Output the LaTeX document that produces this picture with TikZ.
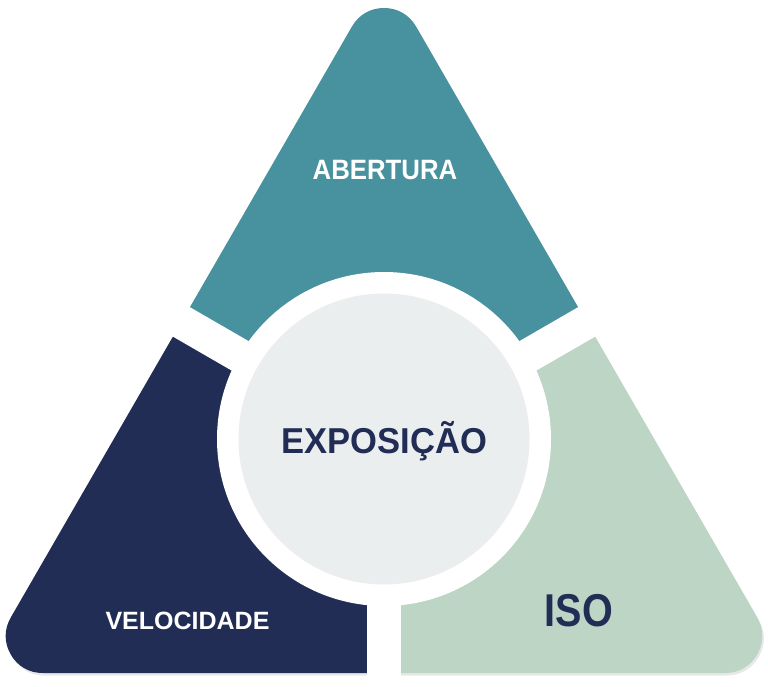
\documentclass[tikz,border=0pt]{standalone}
\usepackage{fontspec}
\setmainfont{Liberation Sans}
\usepackage{xcolor}
\usepackage{tikz}
\usetikzlibrary{calc}
\definecolor{tealtop}{HTML}{48919E}
\definecolor{navyleft}{HTML}{212D55}
\definecolor{sageright}{HTML}{BDD5C5}
\definecolor{coregray}{HTML}{EBEEEF}
% inner triangle, widened by a round-joined stroke to give the rounded corners
\newcommand{\expotri}{(384,45) -- (725.2,636) -- (42.8,636) -- cycle}
\tikzset{
  piece/.style={line width=74pt, line join=round},
  gap/.style={draw=white, line width=34pt},
  lbl/.style={anchor=base, inner sep=0pt, font=\bfseries},
}

\begin{document}
\begin{tikzpicture}[x=1pt, y=-1pt]
  \useasboundingbox (0,0) rectangle (768,687);
  \coordinate (c) at (384,439);

  % soft shadow under the triangle
  \filldraw[black!9, piece, shift={(1.5,2.5)}] \expotri;

  % three coloured parts
  \begin{scope}
    \clip (c) -- ($(c)+(-693,-400)$) -- (384,-200) -- ($(c)+(693,-400)$) -- cycle;
    \filldraw[tealtop, piece] \expotri;
  \end{scope}
  \begin{scope}
    \clip (c) -- ($(c)+(-693,-400)$) -- (-100,800) -- (384,800) -- cycle;
    \filldraw[navyleft, piece] \expotri;
  \end{scope}
  \begin{scope}
    \clip (c) -- (384,800) -- (900,800) -- ($(c)+(693,-400)$) -- cycle;
    \filldraw[sageright, piece] \expotri;
  \end{scope}

  % white gaps and centre disc
  \coordinate (gapS)  at ($(c)+(0,400)$);
  \coordinate (gapNW) at ($(c)+(-346,-200)$);
  \coordinate (gapNE) at ($(c)+(346,-200)$);
  \draw[gap] (c) -- (gapS);
  \draw[gap] (c) -- (gapNW);
  \draw[gap] (c) -- (gapNE);
  \fill[white] (c) circle[radius=167];
  \fill[coregray, draw=black!7, line width=1pt] (c) circle[radius=145];

  % labels
  \node[lbl, text=white]    (abertura) at (385,180) {\fontsize{28}{30}\selectfont\scalebox{0.92}[1]{ABERTURA}};
  \node[lbl, text=navyleft] (expo)     at (384.5,453) {\fontsize{36}{40}\selectfont\scalebox{0.96}[1]{EXPOSIÇÃO}};
  \node[lbl, text=white]    (veloc)    at (187.5,629) {\fontsize{25}{28}\selectfont VELOCIDADE};
  \node[lbl, text=navyleft] (iso)      at (579,626) {\fontsize{46}{50}\selectfont\scalebox{0.86}[1]{ISO}};
\end{tikzpicture}
\end{document}
